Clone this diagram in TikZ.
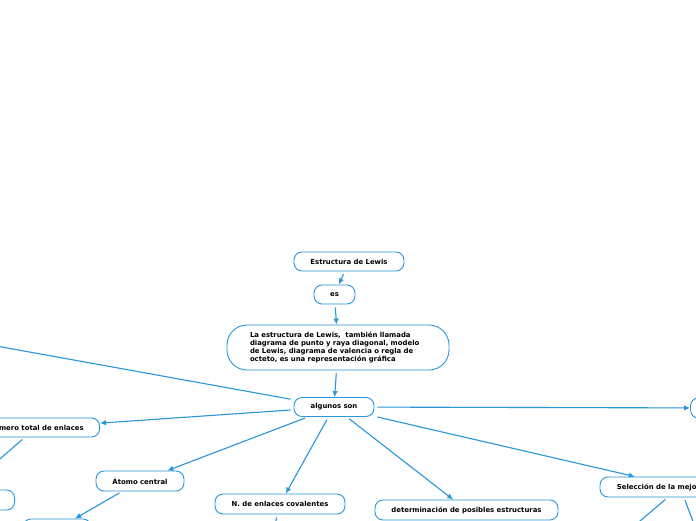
\documentclass[tikz,border=0pt]{standalone}
\usepackage{fontspec}
\setmainfont{DejaVu Sans}
\usepackage{xcolor}
\usetikzlibrary{positioning,arrows.meta}

\definecolor{mapblue}{RGB}{40,150,218}

\begin{document}
\begin{tikzpicture}[x=1pt,y=-1pt,
  box/.style={draw=mapblue, line width=0.9pt, fill=white, rounded corners=8pt, inner sep=0pt,
    minimum height=19pt, align=center, font=\bfseries\fontsize{6.9}{8.3}\selectfont},
  bigbox/.style={box, rounded corners=20pt, align=left, text width=176pt},
  arrow/.style={-{Latex[length=6pt,width=5.5pt]}, mapblue, line width=1.1pt, shorten <=3pt},
  link/.style={mapblue, line width=1.1pt, shorten <=3pt}
]
\useasboundingbox (0,0) rectangle (696,520);
\fill[white] (0,0) rectangle (696,520);
\clip (0,0) rectangle (696,520);

\node[box, minimum width=110pt] (title) at (349,261.5) {Estructura de Lewis};
\node[box, minimum width=41pt] (es) at (334.5,294.5) {es};
\node[bigbox, minimum width=222pt, minimum height=45pt] (defn) at (338,347.5)
  {La estructura de Lewis,~ también llamada\\diagrama de punto y raya diagonal, modelo\\de Lewis, diagrama de valencia o regla de\\octeto, es una representación gráfica};
\node[box, minimum width=80pt] (algunos) at (334,407) {algunos son};

\node[box, minimum width=127pt, anchor=east] (numero) at (100,427.5) {Número total de enlaces};
\node[box, minimum width=88pt, minimum height=20pt] (atomo) at (140,481) {Átomo central};
\node[box, minimum width=130pt, minimum height=20pt] (enlaces) at (280,504) {N. de enlaces covalentes};
\node[box, minimum width=183pt, minimum height=20pt] (estructuras) at (466.5,510) {determinación de posibles estructuras};
\node[box, minimum width=160pt, minimum height=20pt] (seleccion) at (680,487) {Selección de la mejor estructura};

% nodes cut by the frame
\node[box, minimum width=80pt, minimum height=20pt, anchor=west] (derecha) at (690,408) {};
\node[box, minimum width=60pt, minimum height=20pt, anchor=east] (izquierda) at (15,500) {};
\node[box, minimum width=68pt, minimum height=20pt] (abajo) at (57,529) {};

\coordinate (arribaizq) at (-120,325);
\coordinate (numbajo) at (-30,485);
\coordinate (enlbajo) at (270,545);
\coordinate (selA) at (600,555);
\coordinate (selB) at (700,540);

\draw[arrow] (title) -- (es);
\draw[arrow] (es) -- (defn);
\draw[arrow] (defn) -- (algunos);

\draw[arrow] (algunos) -- (arribaizq);
\draw[arrow] (algunos) -- (numero);
\draw[arrow] (algunos) -- (atomo);
\draw[arrow] (algunos) -- (enlaces);
\draw[arrow] (algunos) -- (estructuras);
\draw[arrow] (algunos) -- (seleccion);
\draw[arrow] (algunos) -- (derecha);

\draw[link] (numero) -- (numbajo);
\draw[arrow] (atomo) -- (abajo);
\draw[link] (enlaces) -- (enlbajo);
\draw[link] (seleccion) -- (selA);
\draw[link] (seleccion) -- (selB);

\end{tikzpicture}
\end{document}
